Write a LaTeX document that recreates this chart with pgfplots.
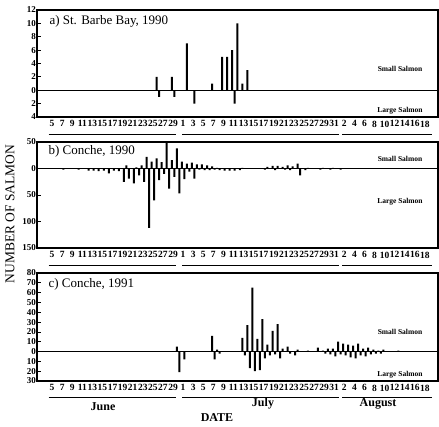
\documentclass[border=0pt]{standalone}
\usepackage{pgfplots}
\pgfplotsset{compat=1.18}
\usepackage{pgfplotstable}
\usepackage{fontspec}
\setmainfont{Liberation Serif}

% d = day counted from 1 June (31 = 1 July, 62 = 1 August)
\pgfplotstableread{
d small large
26 2 1
29 2 1
32 7 0
33 0 2
37 1 0
39 5 0
40 5 0
41 6 2
42 10 0
43 1 0
44 3 0
}\tblA

\pgfplotstableread{
d small large
7 0 2
10 0 2
12 0 4
13 0 4
14 0 5
15 0 4
16 0 9
17 0 4
18 0 5
19 0 25
20 6 19
21 0 28
22 2 13
23 6 25
24 22 112
25 13 60
26 19 22
27 12 10
28 48 38
29 16 16
30 38 47
31 13 20
32 9 6
33 11 19
34 8 2
35 8 3
36 6 3
37 4 2
38 1 3
39 0 4
40 0 4
41 0 4
42 0 3
43 1 0
47 0 2
48 3 0
49 5 3
50 5 0
51 3 2
52 6 3
53 4 0
54 9 13
55 0 3
56 1 0
58 0 2
59 1 0
60 0 2
61 1 0
62 0 2
}\tblB

\pgfplotstableread{
d small large
30 5 21
31 0 8
37 16 8
38 2 2
43 14 4
44 27 17
45 65 20
46 13 19
47 33 7
48 7 4
49 21 3
50 28 7
51 3 0
52 5 2
53 0 4
54 2 0
56 1 0
58 4 0
59 1 2
60 3 3
61 3 5
62 10 3
63 8 4
64 7 6
65 6 7
66 8 4
67 3 5
68 4 3
69 2 2
70 1 2
71 2 0
74 1 0
}\tblC

\pgfplotsset{
  panel/.style={
    scale only axis, width=401pt,
    xmin=2, xmax=81.6,
    xtick={5,7,...,79},
    xticklabels={5,7,9,11,13,15,17,19,21,23,25,27,29,1,3,5,7,9,11,13,15,17,19,21,23,25,27,29,31,2,4,6,8,10,12,14,16,18},
    x tick label style={font=\fontsize{9.5}{9.5}\selectfont\bfseries, inner sep=0.5pt, yshift=-3pt},
    y tick label style={font=\fontsize{9}{9}\selectfont\bfseries, inner sep=1pt},
    xtick pos=bottom, ytick pos=left,
    major x tick style={draw=none},
    tick align=inside, major tick length=3.5pt,
    tick style={black, line width=0.8pt},
    axis line style={line width=2pt},
    clip=false,
  },
  sbar/.style={ybar, bar width=2pt, bar shift=0pt, fill=black, draw=none},
}

\newcommand{\salmonlabels}[2]{%
  \node[font=\fontsize{7.5}{7.5}\selectfont\bfseries] at ([xshift=-38pt]rel axis cs:1,#1) {Small Salmon};
  \node[font=\fontsize{7.5}{7.5}\selectfont\bfseries] at ([xshift=-38pt]rel axis cs:1,#2) {Large Salmon};
}
\newcommand{\monthlines}[1]{%
  \draw[line width=0.8pt] ([yshift=#1]axis description cs:0.0289,0) -- ([yshift=#1]axis description cs:0.3467,0);
  \draw[line width=0.8pt] ([yshift=#1]axis description cs:0.3618,0) -- ([yshift=#1]axis description cs:0.7538,0);
  \draw[line width=0.8pt] ([yshift=#1]axis description cs:0.7613,0) -- ([yshift=#1]axis description cs:0.9849,0);
}

\begin{document}
\begin{tikzpicture}
\useasboundingbox (0,0) rectangle (439pt,-426pt);

% ---------- a) St. Barbe Bay, 1990
\begin{axis}[panel, at={(37pt,-10pt)}, anchor=north west, height=107pt,
  ymin=-4, ymax=12, ytick={-4,-2,0,2,4,6,8,10,12},
  yticklabels={4,2,0,2,4,6,8,10,12}]
  \addplot[black, line width=0.6pt] coordinates {(2,0) (81.6,0)};
  \addplot[sbar] table[x expr=\thisrow{d}-0.25, y=small] {\tblA};
  \addplot[sbar] table[x expr=\thisrow{d}+0.25, y expr=-\thisrow{large}] {\tblA};
  \node[anchor=west, font=\fontsize{13}{13}\selectfont] at ([xshift=9pt,yshift=-11pt]axis description cs:0,1) {a) St. Barbe Bay, 1990};
  \salmonlabels{0.449}{0.056}
  \monthlines{-17pt}
\end{axis}

% ---------- b) Conche, 1990
\begin{axis}[panel, at={(37pt,-142pt)}, anchor=north west, height=106pt,
  ymin=-150, ymax=50, ytick={-150,-100,-50,0,50},
  yticklabels={150,100,50,0,50}]
  \addplot[black, line width=0.6pt] coordinates {(2,0) (81.6,0)};
  \addplot[sbar] table[x expr=\thisrow{d}-0.25, y=small] {\tblB};
  \addplot[sbar] table[x expr=\thisrow{d}+0.25, y expr=-\thisrow{large}] {\tblB};
  \node[anchor=west, font=\fontsize{13}{13}\selectfont] at ([xshift=8pt,yshift=-9pt]axis description cs:0,1) {b) Conche, 1990};
  \salmonlabels{0.837}{0.437}
  \monthlines{-17pt}
\end{axis}

% ---------- c) Conche, 1991
\begin{axis}[panel, at={(37pt,-273pt)}, anchor=north west, height=108pt,
  ymin=-30, ymax=80, ytick={-30,-20,...,80},
  yticklabels={30,20,10,0,10,20,30,40,50,60,70,80}]
  \addplot[black, line width=0.6pt] coordinates {(2,0) (81.6,0)};
  \addplot[sbar] table[x expr=\thisrow{d}-0.25, y=small] {\tblC};
  \addplot[sbar] table[x expr=\thisrow{d}+0.25, y expr=-\thisrow{large}] {\tblC};
  \node[anchor=west, font=\fontsize{13}{13}\selectfont] at ([xshift=8pt,yshift=-11pt]axis description cs:0,1) {c) Conche, 1991};
  \salmonlabels{0.456}{0.056}
  \monthlines{-16pt}
\end{axis}

\node[font=\fontsize{12}{12}\selectfont\bfseries] at (103pt,-407pt) {June};
\node[font=\fontsize{12}{12}\selectfont\bfseries] at (263pt,-404pt) {July};
\node[font=\fontsize{12}{12}\selectfont\bfseries] at (378pt,-404pt) {August};
\node[font=\fontsize{12}{12}\selectfont\bfseries] at (217pt,-418pt) {DATE};
\node[font=\fontsize{13.5}{13.5}\selectfont, rotate=90] at (10pt,-214pt) {NUMBER OF SALMON};
\end{tikzpicture}
\end{document}
